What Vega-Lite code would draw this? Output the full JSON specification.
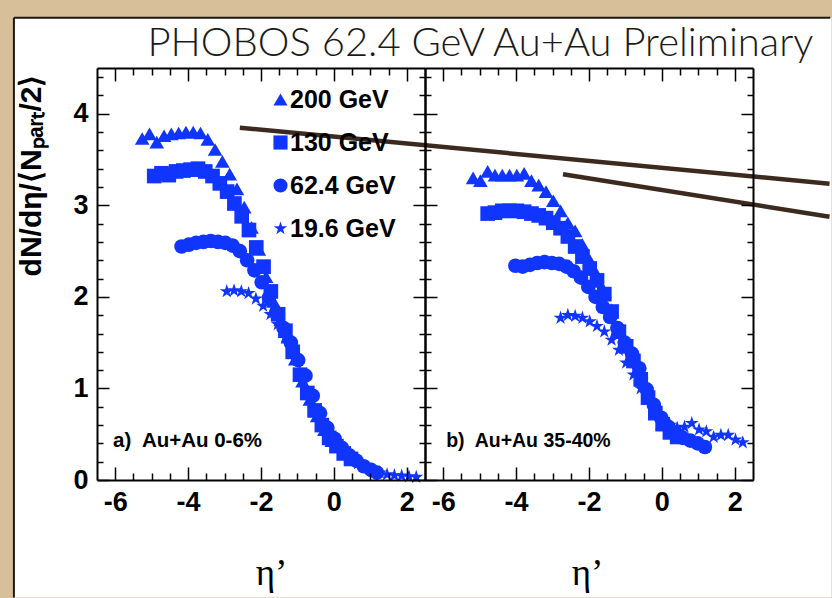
{
  "$schema": "https://vega.github.io/schema/vega-lite/v6.json",
  "background": "#d6bf99",
  "padding": {"left": 12, "top": 16, "right": 0, "bottom": 0},
  "width": 656,
  "height": 412,
  "config": {"view": {"stroke": null}},
  "resolve": {
    "scale": {"x": "independent"},
    "axis": {"x": "independent", "y": "independent"}
  },
  "datasets": {
    "panelA": [
      {"energy": "200 GeV", "eta": -5.26, "dndeta": 3.73},
      {"energy": "200 GeV", "eta": -5.06, "dndeta": 3.78},
      {"energy": "200 GeV", "eta": -4.86, "dndeta": 3.69},
      {"energy": "200 GeV", "eta": -4.66, "dndeta": 3.76},
      {"energy": "200 GeV", "eta": -4.46, "dndeta": 3.78},
      {"energy": "200 GeV", "eta": -4.26, "dndeta": 3.79},
      {"energy": "200 GeV", "eta": -4.06, "dndeta": 3.80},
      {"energy": "200 GeV", "eta": -3.86, "dndeta": 3.80},
      {"energy": "200 GeV", "eta": -3.66, "dndeta": 3.79},
      {"energy": "200 GeV", "eta": -3.46, "dndeta": 3.72},
      {"energy": "200 GeV", "eta": -3.26, "dndeta": 3.61},
      {"energy": "200 GeV", "eta": -3.06, "dndeta": 3.48},
      {"energy": "200 GeV", "eta": -2.86, "dndeta": 3.34},
      {"energy": "200 GeV", "eta": -2.66, "dndeta": 3.18},
      {"energy": "200 GeV", "eta": -2.46, "dndeta": 2.98},
      {"energy": "200 GeV", "eta": -2.26, "dndeta": 2.76},
      {"energy": "200 GeV", "eta": -2.06, "dndeta": 2.52},
      {"energy": "200 GeV", "eta": -1.86, "dndeta": 2.22},
      {"energy": "200 GeV", "eta": -1.66, "dndeta": 1.95},
      {"energy": "200 GeV", "eta": -1.46, "dndeta": 1.75},
      {"energy": "200 GeV", "eta": -1.26, "dndeta": 1.56},
      {"energy": "200 GeV", "eta": -1.06, "dndeta": 1.32},
      {"energy": "200 GeV", "eta": -0.86, "dndeta": 1.08},
      {"energy": "200 GeV", "eta": -0.66, "dndeta": 0.88},
      {"energy": "200 GeV", "eta": -0.46, "dndeta": 0.70},
      {"energy": "200 GeV", "eta": -0.26, "dndeta": 0.55},
      {"energy": "200 GeV", "eta": -0.06, "dndeta": 0.43},
      {"energy": "130 GeV", "eta": -4.93, "dndeta": 3.32},
      {"energy": "130 GeV", "eta": -4.73, "dndeta": 3.35},
      {"energy": "130 GeV", "eta": -4.53, "dndeta": 3.33},
      {"energy": "130 GeV", "eta": -4.33, "dndeta": 3.37},
      {"energy": "130 GeV", "eta": -4.13, "dndeta": 3.38},
      {"energy": "130 GeV", "eta": -3.93, "dndeta": 3.39},
      {"energy": "130 GeV", "eta": -3.73, "dndeta": 3.40},
      {"energy": "130 GeV", "eta": -3.53, "dndeta": 3.37},
      {"energy": "130 GeV", "eta": -3.33, "dndeta": 3.32},
      {"energy": "130 GeV", "eta": -3.13, "dndeta": 3.24},
      {"energy": "130 GeV", "eta": -2.93, "dndeta": 3.15},
      {"energy": "130 GeV", "eta": -2.73, "dndeta": 3.02},
      {"energy": "130 GeV", "eta": -2.53, "dndeta": 2.88},
      {"energy": "130 GeV", "eta": -2.33, "dndeta": 2.73},
      {"energy": "130 GeV", "eta": -2.13, "dndeta": 2.54},
      {"energy": "130 GeV", "eta": -1.93, "dndeta": 2.33},
      {"energy": "130 GeV", "eta": -1.73, "dndeta": 2.06},
      {"energy": "130 GeV", "eta": -1.53, "dndeta": 1.81},
      {"energy": "130 GeV", "eta": -1.33, "dndeta": 1.63},
      {"energy": "130 GeV", "eta": -1.13, "dndeta": 1.40},
      {"energy": "130 GeV", "eta": -0.93, "dndeta": 1.15},
      {"energy": "130 GeV", "eta": -0.73, "dndeta": 0.95},
      {"energy": "130 GeV", "eta": -0.53, "dndeta": 0.76},
      {"energy": "130 GeV", "eta": -0.33, "dndeta": 0.60},
      {"energy": "130 GeV", "eta": -0.13, "dndeta": 0.46},
      {"energy": "130 GeV", "eta": 0.07, "dndeta": 0.37},
      {"energy": "130 GeV", "eta": 0.27, "dndeta": 0.29},
      {"energy": "130 GeV", "eta": 0.47, "dndeta": 0.23},
      {"energy": "62.4 GeV", "eta": -4.18, "dndeta": 2.55},
      {"energy": "62.4 GeV", "eta": -3.98, "dndeta": 2.57},
      {"energy": "62.4 GeV", "eta": -3.78, "dndeta": 2.59},
      {"energy": "62.4 GeV", "eta": -3.58, "dndeta": 2.60},
      {"energy": "62.4 GeV", "eta": -3.38, "dndeta": 2.61},
      {"energy": "62.4 GeV", "eta": -3.18, "dndeta": 2.60},
      {"energy": "62.4 GeV", "eta": -2.98, "dndeta": 2.59},
      {"energy": "62.4 GeV", "eta": -2.78, "dndeta": 2.56},
      {"energy": "62.4 GeV", "eta": -2.58, "dndeta": 2.50},
      {"energy": "62.4 GeV", "eta": -2.38, "dndeta": 2.40},
      {"energy": "62.4 GeV", "eta": -2.18, "dndeta": 2.29},
      {"energy": "62.4 GeV", "eta": -1.98, "dndeta": 2.16},
      {"energy": "62.4 GeV", "eta": -1.78, "dndeta": 1.99},
      {"energy": "62.4 GeV", "eta": -1.58, "dndeta": 1.82},
      {"energy": "62.4 GeV", "eta": -1.38, "dndeta": 1.66},
      {"energy": "62.4 GeV", "eta": -1.18, "dndeta": 1.50},
      {"energy": "62.4 GeV", "eta": -0.98, "dndeta": 1.31},
      {"energy": "62.4 GeV", "eta": -0.78, "dndeta": 1.14},
      {"energy": "62.4 GeV", "eta": -0.58, "dndeta": 0.92},
      {"energy": "62.4 GeV", "eta": -0.38, "dndeta": 0.73},
      {"energy": "62.4 GeV", "eta": -0.18, "dndeta": 0.57},
      {"energy": "62.4 GeV", "eta": 0.02, "dndeta": 0.45},
      {"energy": "62.4 GeV", "eta": 0.22, "dndeta": 0.35},
      {"energy": "62.4 GeV", "eta": 0.42, "dndeta": 0.27},
      {"energy": "62.4 GeV", "eta": 0.62, "dndeta": 0.21},
      {"energy": "62.4 GeV", "eta": 0.82, "dndeta": 0.15},
      {"energy": "62.4 GeV", "eta": 1.02, "dndeta": 0.11},
      {"energy": "62.4 GeV", "eta": 1.18, "dndeta": 0.08},
      {"energy": "19.6 GeV", "eta": -2.94, "dndeta": 2.06},
      {"energy": "19.6 GeV", "eta": -2.74, "dndeta": 2.07},
      {"energy": "19.6 GeV", "eta": -2.54, "dndeta": 2.06},
      {"energy": "19.6 GeV", "eta": -2.34, "dndeta": 2.04},
      {"energy": "19.6 GeV", "eta": -2.14, "dndeta": 1.98},
      {"energy": "19.6 GeV", "eta": -1.94, "dndeta": 1.90},
      {"energy": "19.6 GeV", "eta": -1.74, "dndeta": 1.81},
      {"energy": "19.6 GeV", "eta": -1.54, "dndeta": 1.70},
      {"energy": "19.6 GeV", "eta": -1.34, "dndeta": 1.56},
      {"energy": "19.6 GeV", "eta": -1.14, "dndeta": 1.38},
      {"energy": "19.6 GeV", "eta": -0.94, "dndeta": 1.18},
      {"energy": "19.6 GeV", "eta": -0.74, "dndeta": 0.98},
      {"energy": "19.6 GeV", "eta": -0.54, "dndeta": 0.80},
      {"energy": "19.6 GeV", "eta": -0.34, "dndeta": 0.64},
      {"energy": "19.6 GeV", "eta": -0.14, "dndeta": 0.50},
      {"energy": "19.6 GeV", "eta": 0.06, "dndeta": 0.39},
      {"energy": "19.6 GeV", "eta": 0.26, "dndeta": 0.30},
      {"energy": "19.6 GeV", "eta": 0.46, "dndeta": 0.23},
      {"energy": "19.6 GeV", "eta": 0.66, "dndeta": 0.18},
      {"energy": "19.6 GeV", "eta": 0.86, "dndeta": 0.14},
      {"energy": "19.6 GeV", "eta": 1.06, "dndeta": 0.10},
      {"energy": "19.6 GeV", "eta": 1.26, "dndeta": 0.08},
      {"energy": "19.6 GeV", "eta": 1.46, "dndeta": 0.06},
      {"energy": "19.6 GeV", "eta": 1.66, "dndeta": 0.05},
      {"energy": "19.6 GeV", "eta": 1.86, "dndeta": 0.045},
      {"energy": "19.6 GeV", "eta": 2.06, "dndeta": 0.038},
      {"energy": "19.6 GeV", "eta": 2.26, "dndeta": 0.032}
    ],
    "panelB": [
      {"energy": "200 GeV", "eta": -5.18, "dndeta": 3.30},
      {"energy": "200 GeV", "eta": -4.98, "dndeta": 3.27},
      {"energy": "200 GeV", "eta": -4.78, "dndeta": 3.37},
      {"energy": "200 GeV", "eta": -4.58, "dndeta": 3.33},
      {"energy": "200 GeV", "eta": -4.38, "dndeta": 3.33},
      {"energy": "200 GeV", "eta": -4.18, "dndeta": 3.33},
      {"energy": "200 GeV", "eta": -3.98, "dndeta": 3.33},
      {"energy": "200 GeV", "eta": -3.78, "dndeta": 3.35},
      {"energy": "200 GeV", "eta": -3.58, "dndeta": 3.27},
      {"energy": "200 GeV", "eta": -3.38, "dndeta": 3.22},
      {"energy": "200 GeV", "eta": -3.18, "dndeta": 3.15},
      {"energy": "200 GeV", "eta": -2.98, "dndeta": 3.05},
      {"energy": "200 GeV", "eta": -2.78, "dndeta": 2.94},
      {"energy": "200 GeV", "eta": -2.58, "dndeta": 2.81},
      {"energy": "200 GeV", "eta": -2.38, "dndeta": 2.72},
      {"energy": "200 GeV", "eta": -2.18, "dndeta": 2.57},
      {"energy": "200 GeV", "eta": -1.98, "dndeta": 2.40},
      {"energy": "200 GeV", "eta": -1.78, "dndeta": 2.24},
      {"energy": "200 GeV", "eta": -1.58, "dndeta": 2.06},
      {"energy": "200 GeV", "eta": -1.38, "dndeta": 1.86},
      {"energy": "200 GeV", "eta": -1.18, "dndeta": 1.63},
      {"energy": "200 GeV", "eta": -0.98, "dndeta": 1.46},
      {"energy": "200 GeV", "eta": -0.78, "dndeta": 1.32},
      {"energy": "200 GeV", "eta": -0.58, "dndeta": 1.12},
      {"energy": "200 GeV", "eta": -0.38, "dndeta": 0.93},
      {"energy": "200 GeV", "eta": -0.18, "dndeta": 0.76},
      {"energy": "200 GeV", "eta": 0.02, "dndeta": 0.62},
      {"energy": "130 GeV", "eta": -4.78, "dndeta": 2.91},
      {"energy": "130 GeV", "eta": -4.58, "dndeta": 2.92},
      {"energy": "130 GeV", "eta": -4.38, "dndeta": 2.94},
      {"energy": "130 GeV", "eta": -4.18, "dndeta": 2.94},
      {"energy": "130 GeV", "eta": -3.98, "dndeta": 2.94},
      {"energy": "130 GeV", "eta": -3.78, "dndeta": 2.93},
      {"energy": "130 GeV", "eta": -3.58, "dndeta": 2.91},
      {"energy": "130 GeV", "eta": -3.38, "dndeta": 2.89},
      {"energy": "130 GeV", "eta": -3.18, "dndeta": 2.86},
      {"energy": "130 GeV", "eta": -2.98, "dndeta": 2.81},
      {"energy": "130 GeV", "eta": -2.78, "dndeta": 2.75},
      {"energy": "130 GeV", "eta": -2.58, "dndeta": 2.66},
      {"energy": "130 GeV", "eta": -2.38, "dndeta": 2.55},
      {"energy": "130 GeV", "eta": -2.18, "dndeta": 2.44},
      {"energy": "130 GeV", "eta": -1.98, "dndeta": 2.31},
      {"energy": "130 GeV", "eta": -1.78, "dndeta": 2.18},
      {"energy": "130 GeV", "eta": -1.58, "dndeta": 2.03},
      {"energy": "130 GeV", "eta": -1.38, "dndeta": 1.84},
      {"energy": "130 GeV", "eta": -1.18, "dndeta": 1.62},
      {"energy": "130 GeV", "eta": -0.98, "dndeta": 1.46},
      {"energy": "130 GeV", "eta": -0.78, "dndeta": 1.30},
      {"energy": "130 GeV", "eta": -0.58, "dndeta": 1.10},
      {"energy": "130 GeV", "eta": -0.38, "dndeta": 0.90},
      {"energy": "130 GeV", "eta": -0.18, "dndeta": 0.73},
      {"energy": "130 GeV", "eta": 0.02, "dndeta": 0.61},
      {"energy": "130 GeV", "eta": 0.22, "dndeta": 0.52},
      {"energy": "130 GeV", "eta": 0.42, "dndeta": 0.47},
      {"energy": "62.4 GeV", "eta": -4.02, "dndeta": 2.34},
      {"energy": "62.4 GeV", "eta": -3.82, "dndeta": 2.33},
      {"energy": "62.4 GeV", "eta": -3.62, "dndeta": 2.35},
      {"energy": "62.4 GeV", "eta": -3.42, "dndeta": 2.37},
      {"energy": "62.4 GeV", "eta": -3.22, "dndeta": 2.38},
      {"energy": "62.4 GeV", "eta": -3.02, "dndeta": 2.37},
      {"energy": "62.4 GeV", "eta": -2.82, "dndeta": 2.36},
      {"energy": "62.4 GeV", "eta": -2.62, "dndeta": 2.33},
      {"energy": "62.4 GeV", "eta": -2.42, "dndeta": 2.28},
      {"energy": "62.4 GeV", "eta": -2.22, "dndeta": 2.21},
      {"energy": "62.4 GeV", "eta": -2.02, "dndeta": 2.11},
      {"energy": "62.4 GeV", "eta": -1.82, "dndeta": 2.00},
      {"energy": "62.4 GeV", "eta": -1.62, "dndeta": 1.89},
      {"energy": "62.4 GeV", "eta": -1.42, "dndeta": 1.78},
      {"energy": "62.4 GeV", "eta": -1.22, "dndeta": 1.66},
      {"energy": "62.4 GeV", "eta": -1.02, "dndeta": 1.50},
      {"energy": "62.4 GeV", "eta": -0.82, "dndeta": 1.38},
      {"energy": "62.4 GeV", "eta": -0.62, "dndeta": 1.22},
      {"energy": "62.4 GeV", "eta": -0.42, "dndeta": 0.99},
      {"energy": "62.4 GeV", "eta": -0.22, "dndeta": 0.82},
      {"energy": "62.4 GeV", "eta": -0.02, "dndeta": 0.68},
      {"energy": "62.4 GeV", "eta": 0.18, "dndeta": 0.58},
      {"energy": "62.4 GeV", "eta": 0.38, "dndeta": 0.51},
      {"energy": "62.4 GeV", "eta": 0.58, "dndeta": 0.46},
      {"energy": "62.4 GeV", "eta": 0.78, "dndeta": 0.43},
      {"energy": "62.4 GeV", "eta": 0.98, "dndeta": 0.40},
      {"energy": "62.4 GeV", "eta": 1.18, "dndeta": 0.36},
      {"energy": "19.6 GeV", "eta": -2.78, "dndeta": 1.77},
      {"energy": "19.6 GeV", "eta": -2.58, "dndeta": 1.80},
      {"energy": "19.6 GeV", "eta": -2.38, "dndeta": 1.79},
      {"energy": "19.6 GeV", "eta": -2.18, "dndeta": 1.77},
      {"energy": "19.6 GeV", "eta": -1.98, "dndeta": 1.73},
      {"energy": "19.6 GeV", "eta": -1.78, "dndeta": 1.68},
      {"energy": "19.6 GeV", "eta": -1.58, "dndeta": 1.62},
      {"energy": "19.6 GeV", "eta": -1.38, "dndeta": 1.53},
      {"energy": "19.6 GeV", "eta": -1.18, "dndeta": 1.42},
      {"energy": "19.6 GeV", "eta": -0.98, "dndeta": 1.28},
      {"energy": "19.6 GeV", "eta": -0.78, "dndeta": 1.15},
      {"energy": "19.6 GeV", "eta": -0.58, "dndeta": 1.00},
      {"energy": "19.6 GeV", "eta": -0.38, "dndeta": 0.88},
      {"energy": "19.6 GeV", "eta": -0.18, "dndeta": 0.76},
      {"energy": "19.6 GeV", "eta": 0.02, "dndeta": 0.66},
      {"energy": "19.6 GeV", "eta": 0.22, "dndeta": 0.60},
      {"energy": "19.6 GeV", "eta": 0.42, "dndeta": 0.57},
      {"energy": "19.6 GeV", "eta": 0.62, "dndeta": 0.58},
      {"energy": "19.6 GeV", "eta": 0.82, "dndeta": 0.62},
      {"energy": "19.6 GeV", "eta": 1.02, "dndeta": 0.55},
      {"energy": "19.6 GeV", "eta": 1.22, "dndeta": 0.53},
      {"energy": "19.6 GeV", "eta": 1.42, "dndeta": 0.47},
      {"energy": "19.6 GeV", "eta": 1.62, "dndeta": 0.49},
      {"energy": "19.6 GeV", "eta": 1.82, "dndeta": 0.49},
      {"energy": "19.6 GeV", "eta": 2.02, "dndeta": 0.44},
      {"energy": "19.6 GeV", "eta": 2.22, "dndeta": 0.41}
    ],
    "upperPointer": [
      {"eta": -11.58, "dndeta": 3.848},
      {"eta": 4.60, "dndeta": 3.236}
    ],
    "lowerPointer": [
      {"eta": -2.713, "dndeta": 3.339},
      {"eta": 4.60, "dndeta": 2.876}
    ]
  },
  "layer": [
    {
      "data": {"values": [{}]},
      "mark": {"type": "rect", "color": "white", "clip": false},
      "encoding": {
        "x": {"datum": -8.78, "type": "quantitative",
          "scale": {"domain": [-6.5, 2.5], "range": [0, 328], "nice": false, "zero": false},
          "axis": {
            "orient": "bottom", "zindex": 1, "grid": false,
            "values": [-6, -4, -2, 0, 2],
            "labelExpr": "'' + datum.value",
            "labelFont": "Liberation Sans", "labelFontWeight": "bold", "labelFontSize": 27, "labelColor": "black",
            "labelPadding": 22, "labelFlush": false, "labelOverlap": false,
            "tickSize": -13, "tickColor": "black", "tickWidth": 1.5,
            "domainColor": "black", "domainWidth": 2,
            "title": "η’", "titleFont": "Liberation Serif", "titleFontSize": 37, "titleFontWeight": "normal",
            "titleColor": "black", "titleX": 174, "titleY": 104, "titleAlign": "center", "titleBaseline": "alphabetic"
          }
        },
        "x2": {"datum": 13.655},
        "y": {"datum": 5.05, "type": "quantitative",
          "scale": {"domain": [0, 4.5], "nice": false, "zero": false},
          "axis": {
            "orient": "left", "zindex": 1, "grid": false,
            "values": [0, 1, 2, 3, 4],
            "labelExpr": "'' + datum.value",
            "labelFont": "Liberation Sans", "labelFontWeight": "bold", "labelFontSize": 27, "labelColor": "black",
            "labelPadding": 21, "labelFlush": false, "labelOverlap": false,
            "tickSize": -12, "tickColor": "black", "tickWidth": 1.5,
            "domainColor": "black", "domainWidth": 2,
            "title": "dN/dη/⟨Nₚₐᵣₜ/2⟩", "titleFont": "Liberation Sans", "titleFontWeight": "bold", "titleFontSize": 30,
            "titleColor": "black", "titleAngle": -90, "titleAlign": "right", "titleBaseline": "middle",
            "titleX": -66, "titleY": 6
          }
        },
        "y2": {"datum": -1.283}
      }
    },
    {
      "data": {"values": [{}]},
      "mark": {"type": "rule", "color": "#1e1812", "strokeWidth": 2, "clip": false},
      "encoding": {
        "x": {"datum": -8.78, "type": "quantitative",
          "scale": {"domain": [-6.5, 2.5], "range": [0, 328], "nice": false, "zero": false},
          "axis": {
            "orient": "top", "zindex": 1, "grid": false, "labels": false,
            "values": [-6, -4, -2, 0, 2],
            "tickSize": -13, "tickColor": "black", "tickWidth": 1.5,
            "domainColor": "black", "domainWidth": 2,
            "title": "PHOBOS 62.4 GeV Au+Au Preliminary", "titleFont": "Lato", "titleFontWeight": 300,
            "titleFontSize": 40, "titleColor": "#1a1a1a", "titleX": 50, "titleY": -13,
            "titleAlign": "left", "titleBaseline": "alphabetic", "titleAngle": 0
          }
        },
        "y": {"datum": 5.05, "type": "quantitative",
          "axis": {
            "orient": "left", "zindex": 1, "grid": false, "labels": false, "domain": false, "title": null,
            "values": [0.2,0.4,0.6,0.8,1.2,1.4,1.6,1.8,2.2,2.4,2.6,2.8,3.2,3.4,3.6,3.8,4.2,4.4],
            "tickSize": -6, "tickColor": "black", "tickWidth": 1.5
          }
        },
        "y2": {"datum": -1.283}
      }
    },
    {
      "data": {"values": [{}]},
      "mark": {"type": "rule", "color": "#1e1812", "strokeWidth": 2, "clip": false},
      "encoding": {
        "x": {"datum": -8.78, "type": "quantitative",
          "scale": {"domain": [-6.5, 2.5], "range": [0, 328], "nice": false, "zero": false},
          "axis": {
            "orient": "bottom", "zindex": 1, "grid": false, "labels": false, "domain": false, "title": null,
            "values": [-5.5,-5,-4.5,-3.5,-3,-2.5,-1.5,-1,-0.5,0.5,1,1.5],
            "tickSize": -7, "tickColor": "black", "tickWidth": 1.5
          }
        },
        "x2": {"datum": 13.62},
        "y": {"datum": 5.05, "type": "quantitative",
          "axis": {
            "orient": "right", "offset": -328, "zindex": 1, "grid": false, "labels": false, "title": null,
            "values": [0, 1, 2, 3, 4],
            "tickSize": -12, "tickColor": "black", "tickWidth": 1.5,
            "domainColor": "black", "domainWidth": 2
          }
        }
      }
    },
    {
      "data": {"name": "panelA"},
      "mark": {"type": "point", "filled": true, "size": 215, "color": "#1035ff", "opacity": 1},
      "encoding": {
        "x": {"field": "eta", "type": "quantitative",
          "scale": {"domain": [-6.5, 2.5], "range": [0, 328], "nice": false, "zero": false},
          "axis": {
            "orient": "top", "zindex": 1, "grid": false, "labels": false, "domain": false, "title": null,
            "values": [-5.5,-5,-4.5,-3.5,-3,-2.5,-1.5,-1,-0.5,0.5,1,1.5],
            "tickSize": -7, "tickColor": "black", "tickWidth": 1.5
          }
        },
        "y": {"field": "dndeta", "type": "quantitative",
          "axis": {
            "orient": "right", "offset": -328, "zindex": 1, "grid": false, "labels": false, "domain": false, "title": null,
            "values": [0.2,0.4,0.6,0.8,1.2,1.4,1.6,1.8,2.2,2.4,2.6,2.8,3.2,3.4,3.6,3.8,4.2,4.4],
            "tickSize": -6, "tickColor": "black", "tickWidth": 1.5
          }
        },
        "shape": {"field": "energy", "type": "nominal",
          "scale": {"domain": ["200 GeV", "130 GeV", "62.4 GeV", "19.6 GeV"],
            "range": ["triangle-up", "square", "circle", "M0,-1L0.2245,-0.309L0.951,-0.309L0.363,0.118L0.588,0.809L0,0.382L-0.588,0.809L-0.363,0.118L-0.951,-0.309L-0.2245,-0.309Z"]},
          "legend": {
            "orient": "none", "legendX": 171, "legendY": 19, "title": null, "zindex": 1,
            "labelFont": "Liberation Sans", "labelFontWeight": "bold", "labelFontSize": 25, "labelColor": "black",
            "symbolFillColor": "#1035ff", "symbolStrokeWidth": 0, "symbolSize": 200,
            "rowPadding": 17, "labelOffset": -3
          }
        }
      }
    },
    {
      "data": {"values": [{}]},
      "mark": {"type": "text", "text": "a)\u00a0 Au+Au 0-6%", "align": "left", "baseline": "alphabetic",
        "font": "Liberation Sans", "fontWeight": "bold", "fontSize": 20.5, "color": "black"},
      "encoding": {
        "x": {"datum": -6.06, "type": "quantitative",
          "scale": {"domain": [-6.5, 2.5], "range": [0, 328], "nice": false, "zero": false}, "axis": null},
        "y": {"datum": 0.36, "type": "quantitative", "axis": null}
      }
    },
    {
      "data": {"name": "panelB"},
      "mark": {"type": "point", "filled": true, "size": 215, "color": "#1035ff", "opacity": 1},
      "encoding": {
        "x": {"field": "eta", "type": "quantitative",
          "scale": {"domain": [-6.5, 2.5], "range": [328, 656], "nice": false, "zero": false},
          "axis": {
            "orient": "bottom", "zindex": 1, "grid": false,
            "values": [-6, -4, -2, 0, 2],
            "labelExpr": "'' + datum.value",
            "labelFont": "Liberation Sans", "labelFontWeight": "bold", "labelFontSize": 27, "labelColor": "black",
            "labelPadding": 22, "labelFlush": false, "labelOverlap": false,
            "tickSize": -13, "tickColor": "black", "tickWidth": 1.5,
            "domainColor": "black", "domainWidth": 2,
            "title": "η’", "titleFont": "Liberation Serif", "titleFontSize": 37, "titleFontWeight": "normal",
            "titleColor": "black", "titleX": 490, "titleY": 104, "titleAlign": "center", "titleBaseline": "alphabetic"
          }
        },
        "y": {"field": "dndeta", "type": "quantitative",
          "axis": {
            "orient": "left", "offset": -328, "zindex": 1, "grid": false, "labels": false, "title": null,
            "values": [0, 1, 2, 3, 4],
            "tickSize": -12, "tickColor": "black", "tickWidth": 1.5,
            "domainColor": "black", "domainWidth": 2
          }
        },
        "shape": {"field": "energy", "type": "nominal",
          "scale": {"domain": ["200 GeV", "130 GeV", "62.4 GeV", "19.6 GeV"],
            "range": ["triangle-up", "square", "circle", "M0,-1L0.2245,-0.309L0.951,-0.309L0.363,0.118L0.588,0.809L0,0.382L-0.588,0.809L-0.363,0.118L-0.951,-0.309L-0.2245,-0.309Z"]},
          "legend": null
        }
      }
    },
    {
      "data": {"values": [{}]},
      "mark": {"type": "text", "text": "b)\u00a0 Au+Au 35-40%", "align": "left", "baseline": "alphabetic",
        "font": "Liberation Sans", "fontWeight": "bold", "fontSize": 19.5, "color": "black"},
      "encoding": {
        "x": {"datum": -5.92, "type": "quantitative",
          "scale": {"domain": [-6.5, 2.5], "range": [328, 656], "nice": false, "zero": false},
          "axis": {
            "orient": "top", "zindex": 1, "grid": false, "labels": false, "title": null,
            "values": [-6, -4, -2, 0, 2],
            "tickSize": -13, "tickColor": "black", "tickWidth": 1.5,
            "domainColor": "black", "domainWidth": 2
          }
        },
        "y": {"datum": 0.36, "type": "quantitative",
          "axis": {
            "orient": "left", "offset": -328, "zindex": 1, "grid": false, "labels": false, "domain": false, "title": null,
            "values": [0.2,0.4,0.6,0.8,1.2,1.4,1.6,1.8,2.2,2.4,2.6,2.8,3.2,3.4,3.6,3.8,4.2,4.4],
            "tickSize": -6, "tickColor": "black", "tickWidth": 1.5
          }
        }
      }
    },
    {
      "data": {"name": "upperPointer"},
      "mark": {"type": "line", "color": "#3d2a1f", "strokeWidth": 4.5, "strokeCap": "butt", "clip": false},
      "encoding": {
        "x": {"field": "eta", "type": "quantitative",
          "scale": {"domain": [-6.5, 2.5], "range": [328, 656], "nice": false, "zero": false},
          "axis": {
            "orient": "bottom", "zindex": 1, "grid": false, "labels": false, "domain": false, "title": null,
            "values": [-5.5,-5,-4.5,-3.5,-3,-2.5,-1.5,-1,-0.5,0.5,1,1.5],
            "tickSize": -7, "tickColor": "black", "tickWidth": 1.5
          }
        },
        "y": {"field": "dndeta", "type": "quantitative",
          "axis": {
            "orient": "right", "zindex": 1, "grid": false, "labels": false, "title": null,
            "values": [0, 1, 2, 3, 4],
            "tickSize": -12, "tickColor": "black", "tickWidth": 1.5,
            "domainColor": "black", "domainWidth": 2
          }
        }
      }
    },
    {
      "data": {"name": "lowerPointer"},
      "mark": {"type": "line", "color": "#3d2a1f", "strokeWidth": 4.5, "strokeCap": "butt", "clip": false},
      "encoding": {
        "x": {"field": "eta", "type": "quantitative",
          "scale": {"domain": [-6.5, 2.5], "range": [328, 656], "nice": false, "zero": false},
          "axis": {
            "orient": "top", "zindex": 1, "grid": false, "labels": false, "domain": false, "title": null,
            "values": [-5.5,-5,-4.5,-3.5,-3,-2.5,-1.5,-1,-0.5,0.5,1,1.5],
            "tickSize": -7, "tickColor": "black", "tickWidth": 1.5
          }
        },
        "y": {"field": "dndeta", "type": "quantitative",
          "axis": {
            "orient": "right", "zindex": 1, "grid": false, "labels": false, "domain": false, "title": null,
            "values": [0.2,0.4,0.6,0.8,1.2,1.4,1.6,1.8,2.2,2.4,2.6,2.8,3.2,3.4,3.6,3.8,4.2,4.4],
            "tickSize": -6, "tickColor": "black", "tickWidth": 1.5
          }
        }
      }
    }
  ]
}
